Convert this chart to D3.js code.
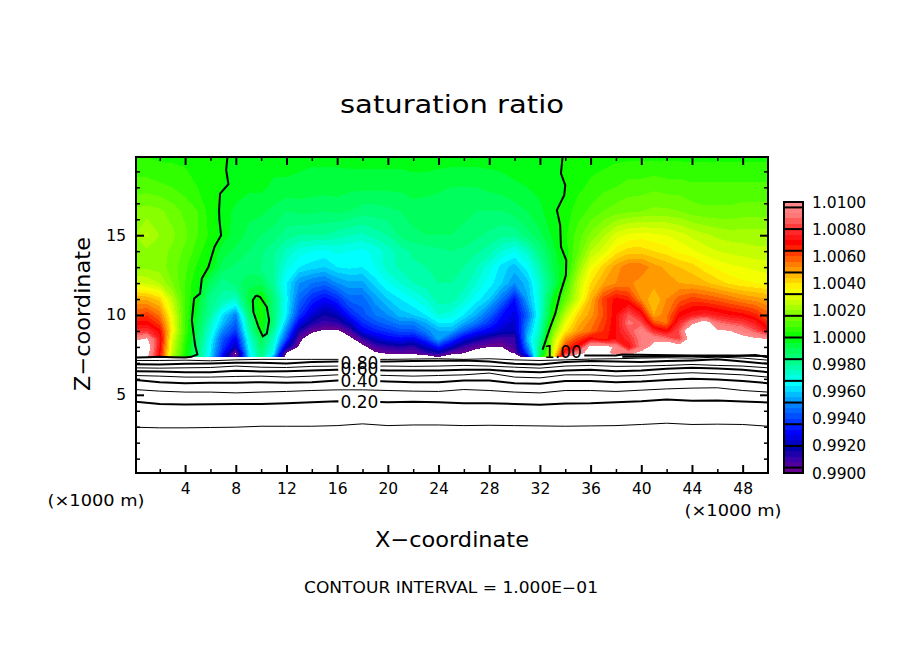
<!DOCTYPE html>
<html>
<head>
<meta charset="utf-8">
<script src="https://cdn.jsdelivr.net/npm/d3@7"></script>
<style>
  html, body { margin: 0; background: #fff; }
  text { font-family: "DejaVu Sans", sans-serif; fill: #000; }
</style>
</head>
<body>
<div id="chart"></div>
<script>
// saturation excess, in units of 0.0001 around 1.0000
// one row per height in zLevels, one value per km in xLevels
const xLevels = d3.range(0, 51);
const zLevels = [19.9, 18, 16.5, 15, 14, 13, 12, 11, 10, 9.5, 9, 8.5, 8, 7.6, 7.36, 7.33];

const r199 = [4,4,3,3,3,2,2,1,-1,-1, -2,-2,-2,-3,-3,-3,-3,-2,-2,-2, -2,-2,-2,-2,-2,-2,-2,-2,-2,-2, -1,-1,-1,-1,1,1,2,2,3,3, 3,3,3,3,3,3,3,3,3,3,3];
const r180 = [10,10,9,8,6,4,2,0,-2,-3, -3,-5,-5,-5,-6,-6,-6,-7,-7,-7, -7,-7,-6,-6,-7,-8,-8,-8,-7,-6, -5,-4,-3,-1,0,3,5,7,8,10, 10,11,10,10,9,9,9,9,9,9,9];
const r165 = [17,18,17,14,11,8,2,-2,-5,-7, -7,-9,-12,-11,-11,-12,-11,-12,-14,-14, -13,-12,-10,-11,-11,-10,-11,-12,-12,-12, -10,-8,-5,-1,2,6,9,12,14,15, 16,17,17,16,14,13,13,13,14,14,14];
const r150 = [20,25,20,17,13,8,3,-2,-6,-9, -12,-14,-18,-20,-20,-20,-22,-24,-25,-22, -20,-15,-13,-12,-12,-12,-13,-15,-17,-19, -19,-14,-9,-3,3,10,17,23,30,33, 34,33,32,30,27,25,23,22,22,22,22];
const r140 = [18,19,18,15,11,6,0,-6,-9,-12, -15,-19,-25,-30,-32,-33,-31,-32,-33,-31, -26,-22,-19,-18,-17,-16,-17,-19,-22,-28, -32,-26,-16,-6,2,12,24,30,38,42, 42,40,38,35,33,30,28,27,26,25,25];
const r130 = [18,19,18,14,9,3,-1,-10,-13,-14, -16,-20,-30,-36,-38,-40,-36,-35,-36,-32, -26,-23,-21,-20,-18,-18,-20,-24,-30,-38, -42,-34,-22,-8,0,18,33,42,50,55, 55,50,47,44,42,38,35,33,32,31,30];
const r120 = [30,27,24,16,8,0,-10,-18,-14,-9, -9,-20,-36,-48,-52,-54,-48,-45,-45,-38, -32,-28,-24,-22,-20,-20,-22,-28,-34,-40, -48,-42,-26,-12,5,25,40,48,52,53, 50,50,50,48,47,45,42,39,37,36,35];
const r110 = [48,47,42,25,8,-2,-18,-22,-26,-6, 2,-14,-34,-54,-64,-70,-64,-54,-54,-46, -40,-36,-32,-28,-22,-22,-27,-34,-40,-52, -68,-45,-28,-3,12,28,46,62,70,66, 52,44,52,58,62,60,58,55,52,50,48];
const r100 = [60,63,55,32,8,-6,-20,-38,-50,-14, 3,-14,-36,-62,-76,-84,-80,-66,-58,-52, -48,-42,-40,-36,-28,-30,-36,-44,-55,-68, -74,-55,-28,2,25,42,50,60,72,85, 74,48,55,70,75,78,75,72,70,66,58];
const r95 = [70,70,62,34,8,-8,-25,-42,-56,-20, 2,-15,-42,-72,-85,-90,-88,-78,-64,-58, -54,-50,-50,-44,-36,-36,-44,-52,-62,-72, -78,-50,-26,8,32,46,54,62,72,90, 85,60,56,78,95,110,90,85,82,75,65];
const r90 = [78,80,70,35,8,-10,-28,-50,-62,-24, 1,-20,-50,-85,-97,-102,-102,-92,-72,-66, -62,-58,-58,-50,-44,-44,-56,-66,-72,-78, -80,-46,-24,15,38,50,56,64,72,84, 95,78,70,85,120,120,102,100,95,85,72];
const r85 = [95,102,75,30,6,-12,-32,-58,-72,-30, -8,-26,-60,-96,-110,-120,-120,-104,-90,-78, -72,-70,-72,-62,-45,-60,-74,-82,-88,-92, -90,-42,-20,22,50,62,72,66,72,78, 92,96,90,82,110,120,120,110,104,102,100];
const r80 = [115,110,72,28,4,-14,-35,-62,-80,-34, -12,-30,-78,-102,-120,-120,-120,-120,-104,-92, -88,-86,-88,-78,-66,-78,-90,-96,-100,-100, -92,-50,-15,25,62,72,105,105,98,72, 92,105,120,108,120,120,120,120,120,120,120];
const r76 = [115,105,70,26,3,-15,-36,-68,-102,-38, -15,-35,-102,-120,-120,-120,-120,-120,-120,-102, -98,-96,-97,-90,-85,-96,-100,-108,-108,-104, -99,-60,-12,28,80,96,104,105,95,96, 104,120,120,120,120,120,120,120,120,120,120];
const r736 = [110,102,70,20,3,-16,-38,-72,-98,-40, -18,-45,-110,-120,-120,-120,-120,-120,-120,-120, -120,-110,-110,-110,-100,-110,-120,-120,-120,-120, -120,-80,-5,30,100,110,110,110,110,110, 110,110,110,110,110,110,110,110,110,110,110];
const rGround = r736.map(() => -300);
const fieldRows = [r199, r180, r165, r150, r140, r130, r120, r110, r100, r95, r90, r85, r80, r76, r736, rGround];

// colour stops of the bar, same units
const colorValues = [-100, -90, -82, -70, -58, -50, -42, -34, -26, -18, -8, 0, 10, 20, 28, 36, 42, 48, 56, 62, 70, 82, 90, 100];
const colorList = ["#6e008c", "#3c00aa", "#0000aa", "#0000ff", "#0050ff", "#0082ff", "#00beff", "#00ffff", "#00ffc8", "#00ff8c", "#00ff50", "#00ff00", "#50ff00", "#96ff00", "#d2ff00", "#ffff00", "#ffd200", "#ffaa00", "#ff6e00", "#ff3c00", "#ff0000", "#ff3c3c", "#ff7878", "#ff8c8c"];

// sub-saturated contour levels, height at every 2 km
const lineX = d3.range(0, 51, 2);
const line01 = [2.97,2.93,2.93,2.95,2.97,3.03,3.03,3.03,3.07,3.18,3.07,3.11,3.11,3.07,3.09,3.07,3.05,3.03,3.05,3.07,3.14,3.22,3.14,3.16,3.14,3.03];
const line02 = [4.58,4.43,4.39,4.41,4.43,4.43,4.47,4.54,4.60,4.58,4.54,4.56,4.54,4.47,4.47,4.43,4.37,4.45,4.47,4.54,4.60,4.71,4.62,4.64,4.58,4.52];
const line03 = [5.33,5.23,5.17,5.17,5.12,5.17,5.21,5.27,5.31,5.31,5.27,5.23,5.21,5.33,5.27,5.17,5.12,5.27,5.27,5.21,5.29,5.37,5.42,5.44,5.27,5.17];
const line04 = [5.94,5.79,5.73,5.75,5.75,5.79,5.75,5.79,5.90,5.90,5.83,5.79,5.79,5.90,5.90,5.73,5.69,5.86,5.86,5.79,5.83,5.92,6.00,5.96,5.86,5.73];
const line05 = [6.21,6.17,6.11,6.11,6.15,6.17,6.11,6.17,6.25,6.25,6.21,6.17,6.21,6.25,6.36,6.11,6.06,6.25,6.25,6.17,6.21,6.32,6.38,6.32,6.25,6.11];
const line06 = [6.48,6.46,6.42,6.42,6.50,6.46,6.48,6.53,6.57,6.57,6.53,6.53,6.53,6.57,6.57,6.46,6.42,6.53,6.57,6.48,6.53,6.63,6.69,6.65,6.57,6.42];
const line07 = [6.69,6.67,6.69,6.71,6.80,6.73,6.71,6.78,6.80,6.80,6.80,6.78,6.80,6.84,6.80,6.73,6.67,6.80,6.84,6.78,6.80,6.84,6.90,6.84,6.80,6.69];
const line08 = [6.92,6.90,6.94,6.96,7.01,7.01,6.96,7.05,7.09,7.09,7.09,7.11,7.13,7.15,7.09,6.94,6.90,7.05,7.11,7.09,7.05,7.11,7.15,7.22,7.09,6.94];
const line09 = [7.15,7.15,7.17,7.13,7.19,7.22,7.22,7.22,7.22,7.22,7.22,7.24,7.26,7.22,7.26,7.19,7.15,7.19,7.24,7.26,7.30,7.32,7.30,7.36,7.30,7.17];
const thinLines = [line01, line03, line05, line07, line09];
const thickLines = [line02, line04, line06, line08];

// the 1.00 contour, [x km, z km]
const sat100Left = [[0.125,7.34],[1,7.36],[2,7.38],[3,7.36],[4,7.34],[4.5,7.38],[4.97,7.53],[4.79,8.10],[4.53,9.67],[4.71,11.03],[5.18,11.34],[5.32,12.28],[5.84,13.0],[6.32,14.27],[6.84,15.0],[6.71,15.94],[6.68,16.57],[6.76,17.6],[7.42,18.2],[7.24,19.08],[7.34,19.9]];
const sat100Right = [[32.21,7.82],[32.55,8.62],[32.82,9.25],[33.21,10.08],[33.6,11.34],[34.05,12.49],[34.08,13.43],[33.66,14.27],[33.6,15.63],[33.34,16.57],[33.92,17.51],[34,18.14],[33.66,18.87],[33.79,19.9]];
const sat100Blob = [[9.6,11.23],[9.34,10.92],[9.39,10.19],[9.79,9.25],[10.13,8.66],[10.45,8.83],[10.63,9.67],[10.45,10.5],[9.92,11.13],[9.6,11.23]];
const sat100Base = [[35.5,7.46],[38,7.47],[38.5,7.52],[41,7.50],[44,7.47],[47,7.46],[50,7.42]];
const sat100Base2 = [[38.5,7.38],[41,7.40],[43,7.43],[47,7.42],[49,7.50],[50,7.35]];

const contourLabels = ["0.80", "0.60", "0.40", "0.20"];
const contourLabelZ = [6.98, 6.6, 5.85, 4.55];

const xMajor = [4, 8, 12, 16, 20, 24, 28, 32, 36, 40, 44, 48];
const xMinor = [2, 6, 10, 14, 18, 22, 26, 30, 34, 38, 42, 46];
const zMajor = [5, 10, 15];
const zMinor = [1, 2, 3, 4, 6, 7, 8, 9, 11, 12, 13, 14, 16, 17, 18, 19];
const barLabels = ["0.9900", "0.9920", "0.9940", "0.9960", "0.9980", "1.0000", "1.0020", "1.0040", "1.0060", "1.0080", "1.0100"];

const width = 904, height = 654;
const plot = { left: 136, right: 768, top: 157, bottom: 473 };

const svg = d3.select("#chart").append("svg")
  .attr("width", width).attr("height", height)
  .style("display", "block");

const x = d3.scaleLinear().domain([0.125, 50]).range([plot.left, plot.right]);
const z = d3.scaleLinear().domain([0.1, 19.9]).range([plot.bottom, plot.top]);

// grid index -> data position (rows are not evenly spaced)
const xFromIndex = d3.scaleLinear().domain(d3.range(xLevels.length)).range(xLevels);
const zFromIndex = d3.scaleLinear().domain(d3.range(zLevels.length)).range(zLevels);

const color = d3.scaleLinear().domain(colorValues).range(colorList);

svg.append("clipPath").attr("id", "plotClip").append("rect")
  .attr("x", plot.left).attr("y", plot.top)
  .attr("width", plot.right - plot.left).attr("height", plot.bottom - plot.top);

const plotG = svg.append("g").attr("clip-path", "url(#plotClip)");

// filled bands, painted low to high, anything over 1.01 goes white again
const bandEdges = d3.range(0, 51).map((k) => -100 + 4 * k);
const contours = d3.contours()
  .size([xLevels.length, zLevels.length])
  .thresholds(bandEdges)(fieldRows.flat());

const path = d3.geoPath(d3.geoTransform({
  point(cx, cy) {
    this.stream.point(x(xFromIndex(cx - 0.5)), z(zFromIndex(cy - 0.5)));
  },
}));

plotG.append("g")
  .selectAll("path")
  .data(contours)
  .join("path")
  .attr("d", path)
  .attr("shape-rendering", "crispEdges")
  .attr("fill", (d) => (d.value >= 100 ? "#fff" : color(d.value + 2)));

// contour lines
const levelLine = d3.line().x((d, i) => x(lineX[i])).y((d) => z(d));
const pairLine = d3.line().x((d) => x(d[0])).y((d) => z(d[1]));

plotG.append("g").selectAll("path").data(thinLines).join("path")
  .attr("d", levelLine).attr("fill", "none").attr("stroke", "#000").attr("stroke-width", 1);
plotG.append("g").selectAll("path").data(thickLines).join("path")
  .attr("d", levelLine).attr("fill", "none").attr("stroke", "#000").attr("stroke-width", 2);
plotG.append("g").selectAll("path")
  .data([sat100Left, sat100Right, sat100Blob, sat100Base, sat100Base2])
  .join("path")
  .attr("d", pairLine).attr("fill", "none").attr("stroke", "#000").attr("stroke-width", 2);

// labels break the lines
const labelG = svg.append("g");
labelG.selectAll("rect").data(contourLabelZ).join("rect")
  .attr("x", x(16.1)).attr("width", x(19.4) - x(16.1))
  .attr("y", (d) => z(d) - 7).attr("height", 14).attr("fill", "#fff");
labelG.selectAll("text").data(contourLabels).join("text")
  .attr("x", (x(16.1) + x(19.4)) / 2)
  .attr("y", (d, i) => z(contourLabelZ[i]))
  .attr("dy", "0.36em")
  .attr("text-anchor", "middle")
  .style("font-size", "17px")
  .text((d) => d);
labelG.append("text").attr("x", 563).attr("y", 358)
  .attr("text-anchor", "middle").style("font-size", "17px").text("1.00");

// axes, ticks point inwards on all four sides
function drawAxis(axisFn, scale, values, size, transform, withText) {
  const axis = axisFn(scale).tickValues(values).tickSize(-size).tickPadding(10);
  if (!withText) axis.tickFormat("");
  const g = svg.append("g").attr("transform", transform).call(axis);
  g.select(".domain").remove();
  g.selectAll("line").attr("stroke", "#000").attr("stroke-width", size > 4 ? 2 : 1.5);
  g.selectAll("text").style("font-size", "15.5px").style("font-family", '"DejaVu Sans", sans-serif');
  return g;
}
const bottomAt = `translate(0,${plot.bottom})`;
const topAt = `translate(0,${plot.top})`;
const leftAt = `translate(${plot.left},0)`;
const rightAt = `translate(${plot.right},0)`;
drawAxis(d3.axisBottom, x, xMajor, 8, bottomAt, true);
drawAxis(d3.axisBottom, x, xMinor, 4, bottomAt, false);
drawAxis(d3.axisTop, x, xMajor, 8, topAt, false);
drawAxis(d3.axisTop, x, xMinor, 4, topAt, false);
drawAxis(d3.axisLeft, z, zMajor, 8, leftAt, true);
drawAxis(d3.axisLeft, z, zMinor, 4, leftAt, false);
drawAxis(d3.axisRight, z, zMajor, 8, rightAt, false);
drawAxis(d3.axisRight, z, zMinor, 4, rightAt, false);

svg.append("rect")
  .attr("x", plot.left).attr("y", plot.top)
  .attr("width", plot.right - plot.left).attr("height", plot.bottom - plot.top)
  .attr("fill", "none").attr("stroke", "#000").attr("stroke-width", 2);

// colour bar
const bar = { left: 784, right: 803, top: 202, bottom: 473 };
const barY = d3.scaleLinear().domain([-100, 100]).range([bar.bottom, bar.top]);
const barG = svg.append("g");
barG.selectAll("rect").data(bandEdges.slice(0, -1)).join("rect")
  .attr("x", bar.left).attr("width", bar.right - bar.left)
  .attr("y", (d) => barY(d + 4)).attr("height", (d) => barY(d) - barY(d + 4))
  .attr("shape-rendering", "crispEdges")
  .attr("fill", (d) => color(d + 2));
// black separator every fourth band
barG.selectAll("line").data(bandEdges.filter((d, i) => i % 4 === 1)).join("line")
  .attr("x1", bar.left).attr("x2", bar.right)
  .attr("y1", (d) => barY(d)).attr("y2", (d) => barY(d))
  .attr("stroke", "#000").attr("stroke-width", 2);
barG.append("rect")
  .attr("x", bar.left).attr("y", bar.top)
  .attr("width", bar.right - bar.left).attr("height", bar.bottom - bar.top)
  .attr("fill", "none").attr("stroke", "#000").attr("stroke-width", 2);
barG.selectAll("text").data(barLabels).join("text")
  .attr("x", 812)
  .attr("y", (d) => barY((+d - 1) * 10000))
  .attr("dy", "0.36em")
  .style("font-size", "15.5px")
  .text((d) => d);

// titles
function label(px, py, str, size, len, rotate) {
  const t = svg.append("text")
    .attr("text-anchor", "middle")
    .attr("textLength", len)
    .attr("lengthAdjust", "spacingAndGlyphs")
    .style("font-size", size + "px")
    .text(str);
  if (rotate) t.attr("transform", `translate(${px},${py}) rotate(-90)`);
  else t.attr("x", px).attr("y", py);
}
label(452, 113, "saturation ratio", 25, 224);
label(452, 547, "X\u2212coordinate", 21, 154);
label(90, 314, "Z\u2212coordinate", 21, 154, true);
label(451, 593, "CONTOUR INTERVAL = 1.000E\u221201", 15.5, 294);
label(96, 506, "(\u00d71000 m)", 15, 97);
label(733, 516, "(\u00d71000 m)", 15, 97);
</script>
</body>
</html>
